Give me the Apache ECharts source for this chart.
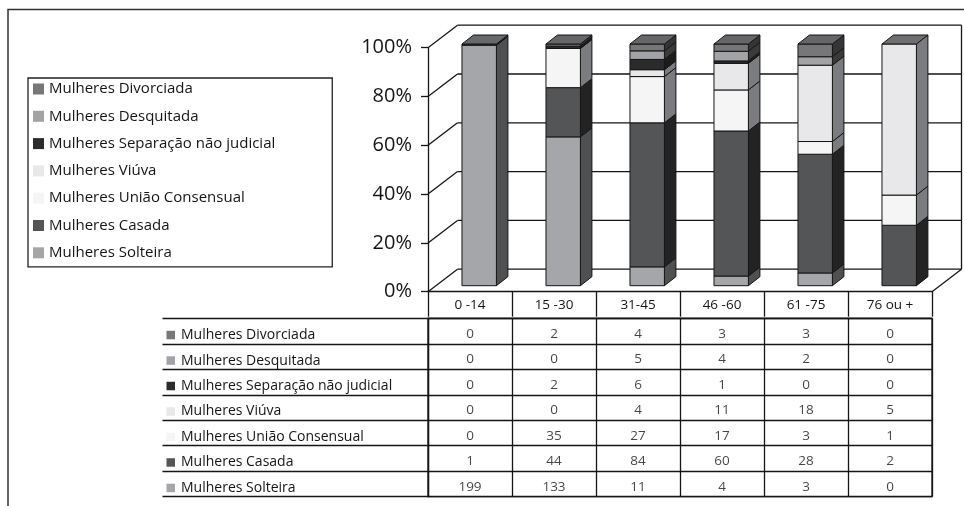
<!DOCTYPE html>
<html>
<head>
<meta charset="utf-8">
<script src="https://cdn.jsdelivr.net/npm/echarts@6/dist/echarts.min.js"></script>
<style>
  html, body { margin: 0; padding: 0; background: #ffffff; }
  #chart { width: 964px; height: 506px; }
</style>
</head>
<body>
<div id="chart"></div>
<script>
// Faixas etárias (colunas) e estado civil (linhas da tabela, de cima para baixo)
const categories = ['0 -14', '15 -30', '31-45', '46 -60', '61 -75', '76 ou +'];
const statusNames = [
  'Mulheres Divorciada',
  'Mulheres Desquitada',
  'Mulheres Separação não judicial',
  'Mulheres Viúva',
  'Mulheres União Consensual',
  'Mulheres Casada',
  'Mulheres Solteira'
];
const divorciada = [0, 2, 4, 3, 3, 0];
const desquitada = [0, 0, 5, 4, 2, 0];
const separacao  = [0, 2, 6, 1, 0, 0];
const viuva      = [0, 0, 4, 11, 18, 5];
const uniao      = [0, 35, 27, 17, 3, 1];
const casada     = [1, 44, 84, 60, 28, 2];
const solteira   = [199, 133, 11, 4, 3, 0];
const percentTicks = [0, 20, 40, 60, 80, 100];

// Tons de cinza: face frontal, lateral e topo de cada estado civil
const frontColors = ['#777779', '#a2a3a6', '#2b2b2b', '#e8e8ea', '#f5f5f5', '#545557', '#a5a6a9'];
const sideColors  = ['#353537', '#3a3a3a', '#1c1c1c', '#7b7c7f', '#7b7c7f', '#232323', '#4f5052'];
const topColors   = ['#666668', '#6a6a6c', '#2a2a2a', '#6f6f72', '#6f6f72', '#68696b', '#68696b'];

const rows = [divorciada, desquitada, separacao, viuva, uniao, casada, solteira];
const FONT = '"Open Sans", "Noto Sans", sans-serif';
const INK = '#151515';
const DEPTH = [29.5, -22.5];   // profundidade das paredes
const BOX = [11.5, -9];        // profundidade das colunas
const BAR_RATIO = 0.41;

// Totais por faixa e empilhamento em percentagem (Solteira em baixo)
const totals = categories.map((_, c) => rows.reduce((s, r) => s + r[c], 0));
const stackOrder = rows.map((_, i) => rows.length - 1 - i);
const topIndex = categories.map((_, c) => {
  let t = -1;
  stackOrder.forEach(si => { if (rows[si][c] > 0) t = si; });
  return t;
});
const running = categories.map(() => 0);
const stackData = {};
stackOrder.forEach(si => {
  stackData[si] = categories.map((_, c) => {
    const pct = rows[si][c] / totals[c] * 100;
    const start = running[c];
    running[c] += pct;
    return [c, start, running[c], topIndex[c] === si ? 1 : 0];
  });
});

function boxRenderer(si) {
  return function (params, api) {
    const c = api.value(0), v0 = api.value(1), v1 = api.value(2), isTop = api.value(3);
    if (v1 - v0 <= 0) return null;
    const pb = api.coord([c, v0]);
    const pt = api.coord([c, v1]);
    const bw = api.size([1, 0])[0] * BAR_RATIO;
    const x0 = pb[0] - bw / 2, x1 = x0 + bw, yb = pb[1], yt = pt[1];
    const stroke = { stroke: INK, lineWidth: 1 };
    const children = [
      { type: 'polygon', shape: { points: [[x1, yb], [x1 + BOX[0], yb + BOX[1]], [x1 + BOX[0], yt + BOX[1]], [x1, yt]] },
        style: Object.assign({ fill: sideColors[si] }, stroke) },
      { type: 'rect', shape: { x: x0, y: yt, width: bw, height: yb - yt },
        style: Object.assign({ fill: frontColors[si] }, stroke) }
    ];
    if (isTop) {
      children.push({ type: 'polygon', shape: { points: [[x0, yt], [x1, yt], [x1 + BOX[0], yt + BOX[1]], [x0 + BOX[0], yt + BOX[1]]] },
        style: Object.assign({ fill: topColors[si] }, stroke) });
    }
    return { type: 'group', children: children };
  };
}

// Paredes e chão em perspectiva
function wallRenderer(params, api) {
  const cs = params.coordSys;
  const left = cs.x, right = cs.x + cs.width;
  const v = api.value(1);
  const y = api.coord([0, v])[1];
  const ls = { stroke: INK, lineWidth: 1.3 };
  const children = [
    { type: 'line', shape: { x1: left, y1: y, x2: left + DEPTH[0], y2: y + DEPTH[1] }, style: ls },
    { type: 'line', shape: { x1: left + DEPTH[0], y1: y + DEPTH[1], x2: right + DEPTH[0], y2: y + DEPTH[1] }, style: ls }
  ];
  if (v === 0) {
    const yTop = api.coord([0, 100])[1];
    children.push({ type: 'line', shape: { x1: right, y1: y, x2: right + DEPTH[0], y2: y + DEPTH[1] }, style: ls });
    children.push({ type: 'line', shape: { x1: right + DEPTH[0], y1: y + DEPTH[1], x2: right + DEPTH[0], y2: yTop + DEPTH[1] }, style: ls });
  }
  return { type: 'group', children: children };
}

const series = [{
  type: 'custom', name: 'paredes', xAxisIndex: 0, yAxisIndex: 0, z: 1, silent: true,
  data: percentTicks.map(v => [0, v]),
  renderItem: wallRenderer
}];

stackOrder.forEach((si, k) => {
  series.push({
    type: 'custom', name: statusNames[si], xAxisIndex: 1, yAxisIndex: 1, z: 5 + k,
    itemStyle: { color: frontColors[si] },
    data: stackData[si],
    renderItem: boxRenderer(si)
  });
});

// Valores da tabela
const tableCells = [];
rows.forEach((r, ri) => r.forEach((v, c) => tableCells.push([c, ri, v])));
series.push({
  type: 'scatter', name: 'tabela', xAxisIndex: 2, yAxisIndex: 2, symbolSize: 0, silent: true,
  data: tableCells,
  label: { show: true, position: 'inside', offset: [0, 3], formatter: p => String(p.value[2]),
           color: INK, fontFamily: FONT, fontSize: 13.5 }
});

const rowRich = { t: { fontFamily: FONT, fontSize: 14, color: INK, padding: [0, 0, 0, 6] } };
frontColors.forEach((col, i) => {
  rowRich['s' + i] = { width: 8.5, height: 8.5, backgroundColor: col, verticalAlign: 'middle' };
});

const option = {
  animation: false,
  backgroundColor: '#ffffff',
  textStyle: { fontFamily: FONT },
  graphic: [{
    type: 'rect', z: -10, silent: true,
    shape: { x: 8, y: 9.5, width: 1000, height: 600 },
    style: { fill: 'none', stroke: '#333333', lineWidth: 1.5 }
  }],
  legend: {
    data: statusNames,
    orient: 'vertical',
    left: 28, top: 78,
    icon: 'rect', itemWidth: 11, itemHeight: 11, itemGap: 9.3,
    padding: [2, 57, 5, 5],
    borderColor: '#222222', borderWidth: 1.3,
    textStyle: { fontFamily: FONT, fontSize: 15, lineHeight: 18, color: INK },
    selectedMode: false
  },
  grid: [
    { left: 428, top: 47.7, width: 504, height: 244 },
    { left: 437.2, top: 44, width: 504, height: 241.7 },
    { left: 428, top: 318.3, width: 504, height: 178.4, show: true, borderColor: INK, borderWidth: 1.3 }
  ],
  xAxis: [
    { type: 'category', gridIndex: 0, data: categories,
      axisLine: { show: true, lineStyle: { color: INK, width: 1.3 } },
      axisTick: { show: true, length: 25, interval: 0, lineStyle: { color: INK, width: 1.3 } },
      axisLabel: { interval: 0, margin: 5, color: INK, fontFamily: FONT, fontSize: 13.5, lineHeight: 16 },
      splitLine: { show: false } },
    { type: 'category', gridIndex: 1, data: categories, show: false },
    { type: 'category', gridIndex: 2, data: categories, position: 'top',
      axisLine: { show: true, lineStyle: { color: INK, width: 1.3 } },
      axisTick: { show: false }, axisLabel: { show: false },
      splitLine: { show: true, interval: 0, lineStyle: { color: INK, width: 1.3 } } }
  ],
  yAxis: [
    { type: 'value', gridIndex: 0, min: 0, max: 100, interval: 20,
      axisLine: { show: true, lineStyle: { color: INK, width: 1.3 } },
      axisTick: { show: true, length: 7, lineStyle: { color: INK, width: 1.3 } },
      axisLabel: { formatter: '{value}%', margin: 16, color: INK, fontFamily: FONT, fontSize: 20 },
      splitLine: { show: false } },
    { type: 'value', gridIndex: 1, min: 0, max: 100, show: false },
    { type: 'category', gridIndex: 2, data: statusNames, inverse: true,
      axisLine: { show: true, lineStyle: { color: INK, width: 1.3 } },
      axisTick: { show: true, length: 265.5, interval: 0, lineStyle: { color: INK, width: 1.3 } },
      axisLabel: {
        interval: 0, align: 'left', margin: 261.5, padding: [8, 0, 0, 0],
        formatter: (val, idx) => '{s' + idx + '|}{t|' + val + '}',
        rich: rowRich
      },
      splitLine: { show: true, interval: 0, lineStyle: { color: INK, width: 1.3 } } },
    { type: 'category', gridIndex: 2, data: statusNames, inverse: true, offset: 265.5,
      axisLine: { show: true, lineStyle: { color: INK, width: 1.3 } },
      axisTick: { show: false }, axisLabel: { show: false }, splitLine: { show: false } }
  ],
  series: series
};

const chart = echarts.init(document.getElementById('chart'), null, { renderer: 'canvas' });
chart.setOption(option);
</script>
</body>
</html>
